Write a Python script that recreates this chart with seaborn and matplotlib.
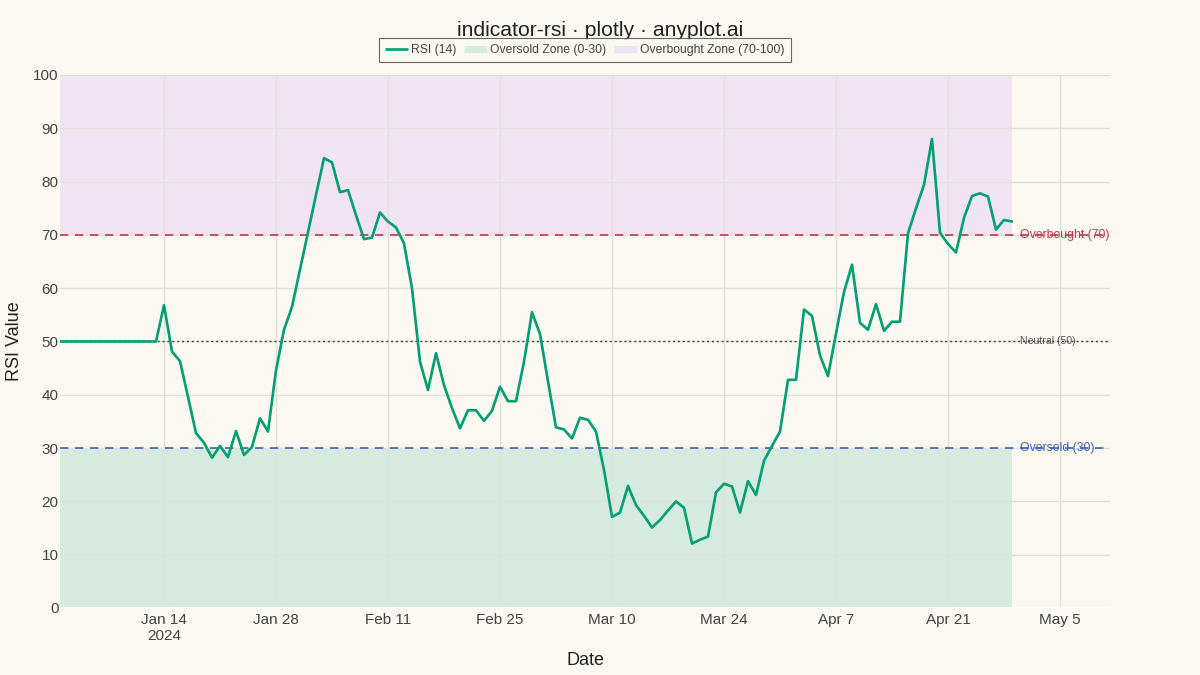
import numpy as np
import pandas as pd
import matplotlib
matplotlib.use("Agg")
import matplotlib.pyplot as plt
from matplotlib.lines import Line2D
import seaborn as sns


# daily RSI(14) values, Jan 1 - Apr 29 2024
start_date = "2024-01-01"
rsi_values = [
    50, 50, 50, 50, 50, 50, 50, 50, 50, 50, 50, 50, 50,
    56.8, 48.1, 46.3, 39.6, 32.8, 31.0, 28.2, 30.4, 28.3, 33.2, 28.7, 30.2,
    35.6, 33.1, 44.6, 52.2, 56.5, 63.5, 70.5, 77.5, 84.4, 83.6, 78.0, 78.4,
    73.7, 69.2, 69.5, 74.2, 72.5, 71.4, 68.4, 60.0, 46.2, 40.9, 47.8, 41.8,
    37.5, 33.7, 37.1, 37.1, 35.1, 37.0, 41.5, 38.8, 38.8, 46.2, 55.5, 51.4,
    42.5, 33.9, 33.5, 31.8, 35.7, 35.3, 33.1, 25.9, 17.1, 17.9, 22.9, 19.3,
    17.3, 15.1, 16.5, 18.3, 20.0, 18.8, 12.1, 12.8, 13.4, 21.7, 23.3, 22.8,
    17.9, 23.8, 21.2, 27.6, 30.4, 33.1, 42.8, 42.8, 56.0, 54.8, 47.4, 43.5,
    51.5, 59.3, 64.4, 53.5, 52.2, 57.0, 52.0, 53.7, 53.7, 70.3, 75.0, 79.4,
    88.0, 70.4, 68.3, 66.7, 73.2, 77.3, 77.8, 77.2, 71.0, 72.8, 72.5,
]

oversold_level = 30
neutral_level = 50
overbought_level = 70

tick_dates = ["2024-01-14", "2024-01-28", "2024-02-11", "2024-02-25", "2024-03-10",
              "2024-03-24", "2024-04-07", "2024-04-21", "2024-05-05"]
tick_labels = ["Jan 14\n2024", "Jan 28", "Feb 11", "Feb 25", "Mar 10",
               "Mar 24", "Apr 7", "Apr 21", "May 5"]

df = pd.DataFrame({
    "Date": pd.date_range(start_date, periods=len(rsi_values), freq="D"),
    "RSI": rsi_values,
})

bg = "#FAF8F1"
green = "#009E73"
red = "#C0394B"
blue = "#3B62B5"

sns.set_theme(style="whitegrid")
plt.rcParams["font.family"] = ["Liberation Sans", "DejaVu Sans"]

fig = plt.figure(figsize=(12, 6.75), dpi=100, facecolor=bg)
ax = fig.add_axes([0.05, 0.0993, 0.875, 0.7896])
ax.set_facecolor(bg)

d0, d1 = df["Date"].iloc[0], df["Date"].iloc[-1]

# zones only cover the data span
ax.fill_between([d0, d1], overbought_level, 100, color="#F0E3F2", lw=0, zorder=0.5)
ax.fill_between([d0, d1], 0, oversold_level, color="#D5EBDF", lw=0, zorder=0.5)

ax.axhline(overbought_level, color=red, lw=1.2, ls=(0, (5, 4)), zorder=1.5)
ax.axhline(oversold_level, color=blue, lw=1.2, ls=(0, (5, 4)), zorder=1.5)
ax.axhline(neutral_level, color="#444444", lw=1.0, ls=(0, (1.5, 2)), zorder=1.5)
ax.axhline(0, color="white", lw=2, zorder=1.2)

sns.lineplot(data=df, x="Date", y="RSI", color=green, lw=1.9, ax=ax, zorder=3)

label_x = pd.Timestamp("2024-04-30")
ax.text(label_x, overbought_level, "Overbought (70)", color=red, fontsize=8.8,
        va="center", ha="left", zorder=1)
ax.text(label_x, neutral_level, "Neutral (50)", color="#555555", fontsize=7.6,
        va="center", ha="left", zorder=1)
ax.text(label_x, oversold_level, "Oversold (30)", color=blue, fontsize=8.8,
        va="center", ha="left", zorder=1)

ax.set_xlim(d0, pd.Timestamp("2024-05-11 06:00"))
ax.set_ylim(0, 100)
ax.set_yticks(np.arange(0, 101, 10))
ax.set_xticks(pd.to_datetime(tick_dates))
ax.set_xticklabels(tick_labels)

ax.grid(True, color="#E2E0DA", lw=1)
ax.set_axisbelow(True)
for s in ax.spines.values():
    s.set_visible(False)
ax.tick_params(axis="both", labelsize=11, colors="#444444", length=0)
ax.tick_params(axis="x", pad=3.5)
ax.tick_params(axis="y", pad=1)

ax.set_xlabel("Date", fontsize=13, color="#222222")
ax.set_ylabel("RSI Value", fontsize=13, color="#222222")
ax.xaxis.set_label_coords(0.5, -0.082)
ax.yaxis.set_label_coords(-0.035, 0.5)

fig.text(0.5, 0.955, "indicator-rsi · plotly · anyplot.ai", ha="center", va="center",
         fontsize=15.2, color="#222222")

handles = [
    Line2D([], [], color=green, lw=1.9, solid_capstyle="butt"),
    Line2D([], [], color="#D5EBDF", lw=5, solid_capstyle="butt"),
    Line2D([], [], color="#F0E3F2", lw=5, solid_capstyle="butt"),
]
labels = ["RSI (14)", "Oversold Zone (0-30)", "Overbought Zone (70-100)"]
leg = fig.legend(handles, labels, loc="center", bbox_to_anchor=(0.4875, 0.9255), ncol=3,
                 frameon=True, fontsize=8.7, handlelength=1.85, handletextpad=0.3,
                 columnspacing=0.65, borderpad=0.5, fancybox=False)
leg.get_frame().set_edgecolor("#444444")
leg.get_frame().set_facecolor(bg)
leg.get_frame().set_linewidth(0.8)
for t in leg.get_texts():
    t.set_color("#444444")

fig.savefig("out.png", dpi=100, facecolor=bg)
